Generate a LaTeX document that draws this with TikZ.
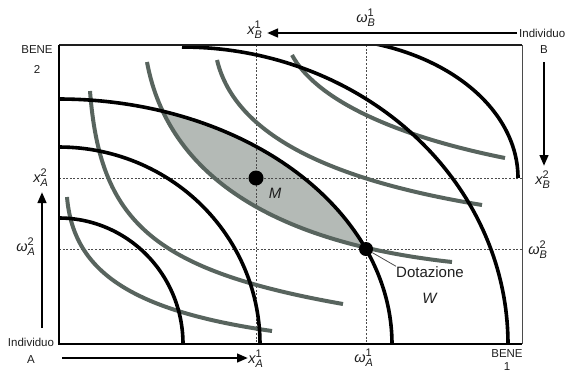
\documentclass[tikz,border=0pt]{standalone}
\usepackage{amsmath}
\usepackage{fontspec}
\setmainfont{Liberation Sans}
\usetikzlibrary{arrows.meta}
\DeclareMathSizes{14.5}{14.5}{11}{8}
\definecolor{curvegray}{RGB}{88,100,94}
\definecolor{lensgray}{RGB}{180,186,182}
\definecolor{guidegray}{RGB}{75,75,75}
\definecolor{inkgray}{RGB}{30,30,30}
\newcommand{\sv}[3]{\ensuremath{\textit{#1}^{\textrm{#3}}_{\textit{#2}}}}
\begin{document}
\begin{tikzpicture}[x=1pt,y=-1pt,
  blackcurve/.style={line width=3.6pt},
  graycurve/.style={line width=4pt, draw=curvegray},
  guide/.style={guidegray, line width=0.9pt, dash pattern=on 2pt off 1.6pt},
  arr/.style={line width=2.6pt, -{Triangle[length=11pt,width=8.5pt]}},
  lab/.style={font=\fontsize{11.5}{13}\selectfont, inner sep=0pt, text=inkgray},
  mlab/.style={font=\fontsize{14.5}{16}\selectfont, inner sep=0pt, text=inkgray},
  big/.style={font=\fontsize{15}{17}\selectfont, inner sep=0pt, text=inkgray},
  dot/.style={circle, fill=black, inner sep=0pt, minimum size=#1},
  dot/.default=15pt]
\useasboundingbox (0,0) rectangle (567,373);

% lens
\begin{scope}
  \clip (59,344) ellipse [x radius=333pt, y radius=245pt];
  \fill[lensgray] (147,62) .. controls (165,160) and (250,240) .. (452,262)
     -- (600,262) -- (600,0) -- (147,0) -- cycle;
\end{scope}

% guide lines
\coordinate (g1t) at (256,45); \coordinate (g1b) at (256,344);
\coordinate (g2t) at (366,45); \coordinate (g2b) at (366,344);
\coordinate (h1l) at (59,178); \coordinate (h1r) at (522,178);
\coordinate (h2l) at (59,249); \coordinate (h2r) at (522,249);
\draw[guide] (g1t) -- (g1b);
\draw[guide] (g2t) -- (g2b);
\draw[guide] (h1l) -- (h1r);
\draw[guide] (h2l) -- (h2r);

\begin{scope}
  \clip (59,45) rectangle (522,344);
  % gray indifference curves
  \draw[graycurve] (67,197) .. controls (73,268) and (125,310) .. (272,331);
  \draw[graycurve] (90,91) .. controls (100,220) and (150,270) .. (343,304);
  \draw[graycurve] (147,62) .. controls (165,160) and (250,240) .. (452,262);
  \draw[graycurve] (217,60) .. controls (235,135) and (330,180) .. (482,205);
  \draw[graycurve] (292,55) .. controls (315,98) and (390,135) .. (505,158);
  % black curves
  \draw[blackcurve] plot[domain=0:90, samples=60] ({59+124*sin(\x)}, {344-126*cos(\x)});
  \draw[blackcurve] plot[domain=0:90, samples=60] ({59+201*sin(\x)}, {344-197*cos(\x)});
  \draw[blackcurve] plot[domain=0:90, samples=80] ({59+333*sin(\x)}, {344-245*cos(\x)});
  \draw[blackcurve] plot[domain=0:90, samples=80] ({182+326*sin(\x)}, {344-297*cos(\x)});
  \draw[blackcurve] plot[domain=17:90, samples=60] ({318+200*sin(\x)}, {178-140*cos(\x)});
\end{scope}

% box
\draw[line width=1.4pt, inkgray] (59,45) -- (522,45);
\draw[line width=1pt, guidegray] (522,45) -- (522,344);
\draw[line width=2pt, black] (59,45) -- (59,344) -- (522,344);

% points
\node[dot] (M) at (256,178) {};
\node[dot=14pt] (W) at (366,249) {};
\node[big] (Mlab) at (275,193) {\textit{M}};
\node[big] (dot) at (430,272) {Dotazione};
\node[big] (Wlab) at (430,298) {\textit{W}};
\draw[line width=0.8pt, guidegray] (W) -- (dot.north west);

% arrows
\coordinate (tA) at (517,33); \coordinate (tB) at (267,33);
\coordinate (lA) at (42,328); \coordinate (lB) at (42,192);
\coordinate (bA) at (62,358); \coordinate (bB) at (248,358);
\coordinate (rA) at (544,62); \coordinate (rB) at (544,166);
\draw[arr] (tA) -- (tB);
\draw[arr] (lA) -- (lB);
\draw[arr] (bA) -- (bB);
\draw[arr] (rA) -- (rB);

% text labels
\node[lab] (bene2) at (37,50) {BENE};
\node[lab] (two) at (37,69) {2};
\node[lab] (indA) at (31,342) {Individuo};
\node[lab] (A) at (31,360) {A};
\node[lab] (bene1) at (507,354) {BENE};
\node[lab] (one) at (507,367) {1};
\node[lab] (B) at (544,50) {B};
\node[lab, anchor=west] (indB) at (519,33) {Individuo};

\node[mlab] (xA2) at (41,178) {\sv{x}{A}{2}};
\node[mlab] (wA2) at (26,247) {\sv{ω}{A}{2}};
\node[mlab] (xA1) at (256,359) {\sv{x}{A}{1}};
\node[mlab] (wA1) at (364,358) {\sv{ω}{A}{1}};
\node[mlab] (xB1) at (255,30) {\sv{x}{B}{1}};
\node[mlab] (wB1) at (366,18) {\sv{ω}{B}{1}};
\node[mlab] (xB2) at (543,180) {\sv{x}{B}{2}};
\node[mlab] (wB2) at (538,250) {\sv{ω}{B}{2}};
\end{tikzpicture}
\end{document}
